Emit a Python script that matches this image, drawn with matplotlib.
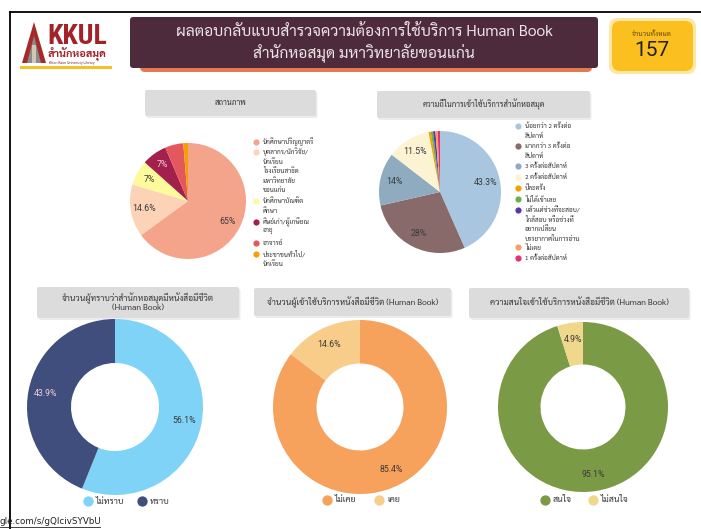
import matplotlib
matplotlib.use("Agg")
import numpy as np
import matplotlib.pyplot as plt
from matplotlib import font_manager
from matplotlib.patches import FancyBboxPatch, Polygon, Rectangle

W, H = 701, 529

# --- data -------------------------------------------------------------------
status_labels = [
    "นักศึกษาปริญญาตรี",
    "บุคลากร/นักวิจัย/\nนักเรียน\nโรงเรียนสาธิต\nมหาวิทยาลัย\nขอนแก่น",
    "นักศึกษาบัณฑิต\nศึกษา",
    "ศิษย์เก่า/ผู้เกษียณ\nอายุ",
    "อาจารย์",
    "ประชาชนทั่วไป/\nนักเรียน",
]
status_pct = [65, 14.6, 7, 7, 5.1, 1.3]
status_colors = ["#f4a48a", "#fcd3b6", "#fdfa9c", "#a3204d", "#e4585d", "#f5a000"]

freq_labels = [
    "น้อยกว่า 2 ครั้งต่อ\nสัปดาห์",
    "มากกว่า 3 ครั้งต่อ\nสัปดาห์",
    "3 ครั้งต่อสัปดาห์",
    "2 ครั้งต่อสัปดาห์",
    "ปีละครั้ง",
    "ไม่ได้เข้าเลย",
    "แล้วแต่ช่วงที่จะสอบ/\nใกล้สอบ หรือช่วงที่\nอยากเปลี่ยน\nบรรยากาศในการอ่าน",
    "ไม่เคย",
    "1 ครั้งต่อสัปดาห์",
]
freq_pct = [43.3, 28, 14, 11.5, 0.6, 0.6, 0.6, 0.6, 0.6]
freq_colors = ["#a8c6df", "#886a6b", "#8eabbf", "#fcf3d3", "#f5a000",
               "#6ab04c", "#5b34a8", "#f4a06a", "#e8306b"]

know_labels = ["ไม่ทราบ", "ทราบ"]
know_pct = [56.1, 43.9]
know_colors = ["#7fd3f7", "#3f4e7c"]

used_labels = ["ไม่เคย", "เคย"]
used_pct = [85.4, 14.6]
used_colors = ["#f6a15c", "#f8cd8a"]

interest_labels = ["สนใจ", "ไม่สนใจ"]
interest_pct = [95.1, 4.9]
interest_colors = ["#7b9a46", "#efd78c"]

title_line1 = "ผลตอบกลับแบบสำรวจความต้องการใช้บริการ Human Book"
title_line2 = "สำนักหอสมุด มหาวิทยาลัยขอนแก่น"
total_label = "จำนวนทั้งหมด"
total_value = "157"
chart_titles = [
    "สถานภาพ",
    "ความถี่ในการเข้าใช้บริการสำนักหอสมุด",
    "จำนวนผู้ทราบว่าสำนักหอสมุดมีหนังสือมีชีวิต\n(Human Book)",
    "จำนวนผู้เข้าใช้บริการหนังสือมีชีวิต (Human Book)",
    "ความสนใจเข้าใช้บริการหนังสือมีชีวิต (Human Book)",
]
url_text = "gle.com/s/gQIcivSYVbU"


def pick_family(names):
    installed = {f.name for f in font_manager.fontManager.ttflist}
    for n in names:
        if n in installed:
            return n
    return "DejaVu Sans"


THAI = pick_family(["Sarabun", "Noto Sans Thai Looped", "Noto Sans Thai", "Bai Jamjuree"])
NARROW = pick_family(["Liberation Sans Narrow", "Roboto Condensed", "DejaVu Sans"])
plt.rcParams["font.family"] = [THAI, "DejaVu Sans"]

fig = plt.figure(figsize=(W / 100, H / 100), dpi=100)
canvas = fig.add_axes([0, 0, 1, 1])
canvas.set_xlim(0, W)
canvas.set_ylim(H, 0)
canvas.axis("off")


def px_axes(x0, y0, w, h):
    return fig.add_axes([x0 / W, 1 - (y0 + h) / H, w / W, h / H])


def box(x, y, w, h, color, r=3, z=1):
    canvas.add_patch(FancyBboxPatch((x, y), w, h, boxstyle=f"round,pad=0,rounding_size={r}",
                                    fc=color, ec="none", zorder=z))


# frame lines
canvas.plot([10, W], [12, 12], color="black", lw=1.3, zorder=5)
canvas.plot([10, 10], [12, H], color="black", lw=1.3, zorder=5)

# logo
canvas.add_patch(Polygon([[22, 63], [34, 22], [46, 63]], closed=True, fc="#a52a2a", ec="none", zorder=2))
canvas.add_patch(Polygon([[27, 63], [34, 36], [41, 63]], closed=True, fc="#8c8c8c", ec="none", zorder=3))
canvas.add_patch(Rectangle((32, 45), 4, 18, fc="#cfc8b6", ec="none", zorder=4))
canvas.text(47, 36, "KKUL", color="#a3222a", fontsize=20, fontweight="bold",
            family=NARROW, va="center", ha="left", zorder=3)
canvas.text(48, 55, "สำนักหอสมุด", color="#a3222a", fontsize=7.8, fontweight="bold",
            va="center", ha="left", zorder=3)
canvas.text(49, 63, "Khon Kaen University Library", color="#7a2a2a", fontsize=2.7,
            va="center", ha="left", zorder=3)
canvas.plot([21, 110], [67, 67], color="#f2c22c", lw=2.2, zorder=3)

# header bar
box(140, 55, 452, 17, "#e27a4c", r=5, z=1)
box(130, 17, 468, 51, "#4d2b3c", r=3, z=2)
canvas.text(364, 31, title_line1, color="#ece4e6", fontsize=11.2,
            ha="center", va="center", zorder=3)
canvas.text(364, 53, title_line2, color="#ece4e6", fontsize=11.2,
            ha="center", va="center", zorder=3)

# total box
box(609, 18, 87, 56, "#fde7a2", r=9, z=1)
box(612, 21, 81, 50, "#fbbf1f", r=8, z=2)
canvas.text(652, 34, total_label, color="#6b4a10", fontsize=5, ha="center", va="center", zorder=3)
canvas.text(652, 50, total_value, color="#222222", fontsize=15, family="Roboto",
            ha="center", va="center", zorder=3)

# chart title boxes
title_boxes = [(145, 90, 171, 26), (377, 91, 213, 27), (37, 287, 202, 31),
               (254, 288, 197, 28), (469, 288, 220, 30)]
title_sizes = [5.6, 5.6, 6.1, 6.1, 6.1]
for (x, y, w, h), t, fs in zip(title_boxes, chart_titles, title_sizes):
    box(x + 1.5, y + 2, w, h, "#ececec", r=2, z=1)
    box(x, y, w, h, "#dcdcdc", r=2, z=2)
    canvas.text(x + w / 2, y + h / 2, t, color="#333333", fontsize=fs, ha="center",
                va="center", linespacing=1.0, zorder=3)


def pie_labels(pcts, min_pct):
    return [f"{p:g}%" if p >= min_pct else "" for p in pcts]


def draw_pie(cx, cy, r, pcts, colors, hole=0.0, min_pct=5.5, dist=0.77, fs=6.3, light=()):
    ax = px_axes(cx - r, cy - r, 2 * r, 2 * r)
    wedge = {"linewidth": 0}
    if hole:
        wedge["width"] = 1 - hole
    wedges, _ = ax.pie(pcts, colors=colors, startangle=90, counterclock=False,
                       radius=1, wedgeprops=wedge)
    for i, (w, lab) in enumerate(zip(wedges, pie_labels(pcts, min_pct))):
        if not lab:
            continue
        ang = np.deg2rad((w.theta1 + w.theta2) / 2)
        ax.text(dist * np.cos(ang), dist * np.sin(ang), lab, ha="center", va="center",
                fontsize=fs, family="Roboto",
                color="#f0d0d8" if i in light else "#3a3a3a")
    ax.set_xlim(-1, 1)
    ax.set_ylim(-1, 1)
    ax.set_aspect("equal")
    ax.axis("off")
    return ax


draw_pie(188, 201, 58, status_pct, status_colors, light=(3,))
draw_pie(440, 192, 61, freq_pct, freq_colors)
draw_pie(115, 407, 88, know_pct, know_colors, hole=0.5, min_pct=0, dist=0.8, light=(1,))
draw_pie(360, 407, 87, used_pct, used_colors, hole=0.5, min_pct=0, dist=0.8)
draw_pie(583, 407, 85, interest_pct, interest_colors, hole=0.5, min_pct=0, dist=0.8)


def vertical_legend(x, ys, labels, colors, fs=4.7, step=9.4):
    for y, lab, c in zip(ys, labels, colors):
        canvas.scatter([x], [y], s=20, color=c, zorder=4, linewidths=0)
        for k, line in enumerate(lab.split("\n")):
            canvas.text(x + 7, y + k * step, line, fontsize=fs, color="#333333",
                        ha="left", va="center", zorder=4)


vertical_legend(256, [142, 152, 201, 222, 243, 254], status_labels, status_colors)
vertical_legend(518, [126, 146, 166, 177, 188, 199, 210, 247, 258], freq_labels, freq_colors)


def row_legend(xs, y, labels, colors, fs=6.3):
    for x, lab, c in zip(xs, labels, colors):
        canvas.scatter([x], [y], s=55, color=c, zorder=4, linewidths=0)
        canvas.text(x + 8, y, lab, fontsize=fs, color="#333333", ha="left", va="center", zorder=4)


row_legend([88, 142], 501, know_labels, know_colors)
row_legend([327, 379], 500, used_labels, used_colors)
row_legend([545, 593], 500, interest_labels, interest_colors)

# url footer
canvas.text(0, 521, url_text, fontsize=6.3, color="#222222", family="DejaVu Sans",
            ha="left", va="center", zorder=6)
canvas.plot([0, 100], [527, 527], color="#222222", lw=0.6, zorder=6)

fig.savefig("out.png", dpi=100, facecolor="white")
